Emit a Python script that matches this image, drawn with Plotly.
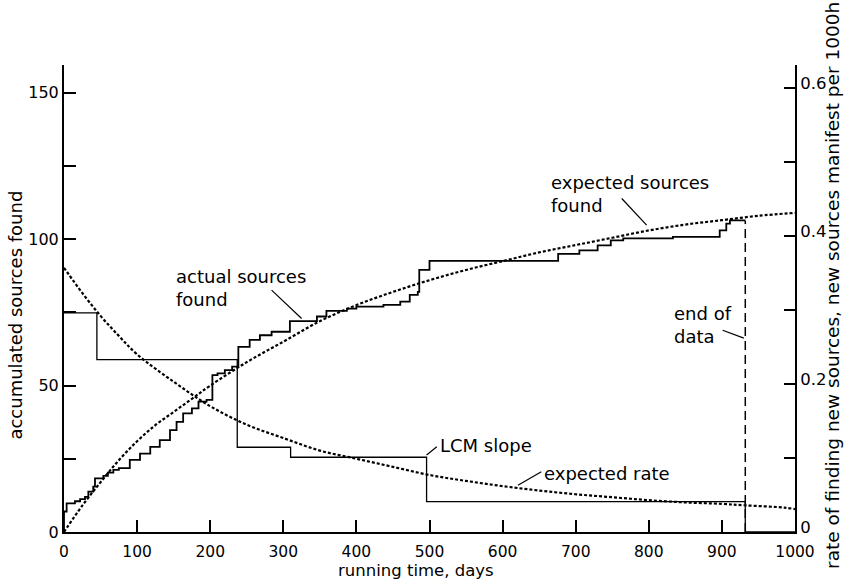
import plotly.graph_objects as go

# ---- data ----
# actual sources found (staircase, cumulative)
actual_days = [0, 0, 3.6, 15, 22, 28.7, 33.3, 40, 42.4, 53.8, 60, 67.5, 75, 90, 104, 118, 131, 145,
               154, 163, 175, 184, 195, 203, 210, 220, 230, 238.5, 254, 268, 284, 309, 346, 359,
               387, 400, 437, 460, 473, 484, 486, 500, 676, 705, 730, 748, 765, 833, 897, 906,
               911, 932]
actual_found = [0, 7, 9.8, 10.5, 11.2, 12, 13.8, 15.5, 18.3, 19.2, 20.3, 21.2, 21.8, 24.6, 26.8,
                29.1, 31.4, 34.8, 37.6, 40.5, 42.2, 44.5, 45.1, 53.6, 54.2, 55.3, 56.5, 63.2, 65.6,
                67.2, 68.4, 72.0, 73.6, 75.5, 76.3, 77.0, 77.6, 78.7, 81.0, 82.0, 89.5, 92.6, 95.0,
                96.2, 97.9, 99.6, 100.3, 100.8, 103.0, 105.3, 106.4, 106.4]

# expected sources found (smooth curve)
exp_days = [0, 25, 50, 75, 100, 125, 150, 175, 200, 250, 300, 350, 400, 450, 500, 550, 600,
            650, 700, 750, 800, 850, 900, 950, 1000]
exp_found = [0, 9, 17, 24.5, 31, 36.5, 41, 45.5, 50, 58, 65, 72, 77.5, 82, 86, 89.5, 92.5,
             95.5, 98, 100.5, 103, 105, 106.5, 108, 109]

# LCM slope (staircase, right axis)
lcm_days = [0, 45, 237, 310, 496, 932, 1000]
lcm_rate = [0.296, 0.233, 0.1145, 0.101, 0.041, 0.0, 0.0]

# expected rate (smooth curve, right axis)
rate_days = [0, 25, 50, 75, 100, 150, 200, 250, 300, 350, 400, 450, 500, 550, 600, 650, 700,
             750, 800, 850, 900, 932, 985, 1000]
rate_vals = [0.357, 0.323, 0.292, 0.265, 0.240, 0.203, 0.170, 0.145, 0.127, 0.110, 0.099,
             0.088, 0.077, 0.069, 0.062, 0.056, 0.051, 0.047, 0.043, 0.040, 0.038, 0.036,
             0.033, 0.031]

end_of_data = 932
end_of_data_top = 106.4

x_ticks = [0, 100, 200, 300, 400, 500, 600, 700, 800, 900, 1000]
y_ticks = [0, 25, 50, 75, 100, 125, 150]
y_ticktext = ["0", "", "50", "", "100", "", "150"]
y2_ticks = [0, 0.1, 0.2, 0.3, 0.4, 0.5, 0.6]
y2_ticktext = ["0", "", "0.2", "", "0.4", "", "0.6"]

FONT = "DejaVu Sans"
INK = "black"

fig = go.Figure()

fig.add_trace(go.Scatter(x=actual_days, y=actual_found, mode="lines", line_shape="hv",
                         line=dict(color=INK, width=1.8), showlegend=False))
fig.add_trace(go.Scatter(x=exp_days, y=exp_found, mode="lines", line_shape="spline",
                         line=dict(color=INK, width=2.2, dash="3px,2px"), showlegend=False))
fig.add_trace(go.Scatter(x=lcm_days, y=lcm_rate, mode="lines", line_shape="hv", yaxis="y2",
                         line=dict(color=INK, width=1.3), showlegend=False))
fig.add_trace(go.Scatter(x=rate_days, y=rate_vals, mode="lines", line_shape="spline", yaxis="y2",
                         line=dict(color=INK, width=2.2, dash="3px,2px"), showlegend=False))

shapes = [
    dict(type="line", xref="x", yref="y", x0=end_of_data, x1=end_of_data, y0=0, y1=end_of_data_top,
         line=dict(color=INK, width=1.5, dash="9px,5px")),
    # leader lines
    dict(type="line", xref="x", yref="y", x0=284, y0=82.6, x1=325, y1=72.9, line=dict(color=INK, width=1.2)),
    dict(type="line", xref="x", yref="y", x0=763, y0=113.9, x1=797, y1=104.8, line=dict(color=INK, width=1.2)),
    dict(type="line", xref="x", yref="y", x0=510, y0=29.1, x1=496, y1=26.3, line=dict(color=INK, width=1.2)),
    dict(type="line", xref="x", yref="y", x0=653, y0=20.6, x1=621, y1=16.0, line=dict(color=INK, width=1.2)),
    dict(type="line", xref="x", yref="y", x0=901, y0=68.9, x1=930, y1=66.2, line=dict(color=INK, width=1.2)),
]

def label(text, x, y, xanchor="left", yanchor="top"):
    return dict(text=text, x=x, y=y, xref="x", yref="y", showarrow=False, align="left",
                xanchor=xanchor, yanchor=yanchor, font=dict(family=FONT, size=18, color=INK))

annotations = [
    label("actual sources<br>found", 151, 91.5),
    label("expected sources<br>found", 664, 123.5),
    label("LCM slope", 511, 29.7, yanchor="middle"),
    label("expected rate", 654, 20.1, yanchor="middle"),
    label("end of<br>data", 832, 79),
    dict(text="accumulated sources found", xref="paper", yref="paper", x=-0.066, y=0.465,
         textangle=-90, showarrow=False, xanchor="center", yanchor="middle",
         font=dict(family=FONT, size=18, color=INK)),
    dict(text="rate of finding new sources, new sources manifest per 1000h", xref="paper",
         yref="paper", x=1.052, y=0.527, textangle=-90, showarrow=False, xanchor="center",
         yanchor="middle", font=dict(family=FONT, size=18.5, color=INK)),
    dict(text="running time, days", xref="paper", yref="paper", x=0.482, y=-0.106,
         showarrow=False, xanchor="center", yanchor="bottom",
         font=dict(family=FONT, size=16.5, color=INK)),
]

fig.update_layout(
    width=847, height=582,
    margin=dict(l=64, r=52, t=65, b=50),
    paper_bgcolor="white", plot_bgcolor="white",
    font=dict(family=FONT, size=15, color=INK),
    shapes=shapes, annotations=annotations,
    xaxis=dict(range=[0, 1000], tickvals=x_ticks, ticks="inside", ticklen=12, tickwidth=1.8,
               tickcolor=INK, showline=True, linecolor=INK, linewidth=2, showgrid=False,
               zeroline=False, tickfont=dict(family=FONT, size=15.5), ticklabelstandoff=4),
    yaxis=dict(range=[0, 159.5], tickvals=y_ticks, ticktext=y_ticktext, ticks="inside",
               ticklen=12, tickwidth=1.8, tickcolor=INK, showline=True, linecolor=INK,
               linewidth=2, showgrid=False, zeroline=False, tickfont=dict(family=FONT, size=16)),
    yaxis2=dict(range=[0, 0.631], tickvals=y2_ticks, ticktext=y2_ticktext, overlaying="y",
                side="right", ticks="inside", ticklen=11, tickwidth=1.8, tickcolor=INK,
                showline=True, linecolor=INK, linewidth=2, showgrid=False, zeroline=False,
                tickfont=dict(family=FONT, size=16.5), ticklabelshift=-5),
)

fig.write_html("out.html")
